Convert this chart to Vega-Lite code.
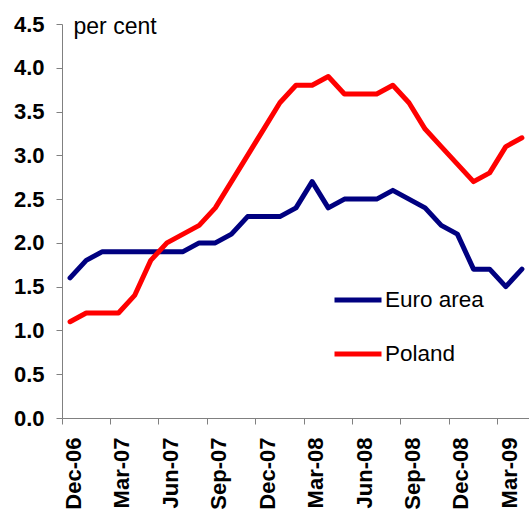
{
  "$schema": "https://vega.github.io/schema/vega-lite/v6.json",
  "autosize": "none",
  "width": 468,
  "height": 394,
  "padding": {"left": 62, "top": 24, "right": 0, "bottom": 93},
  "background": "white",
  "config": {
    "view": {"stroke": null},
    "font": "Liberation Sans"
  },
  "data": {
    "values": [
      {"month": "Dec-06", "series": "Euro area", "value": 1.6},
      {"month": "Jan-07", "series": "Euro area", "value": 1.8},
      {"month": "Feb-07", "series": "Euro area", "value": 1.9},
      {"month": "Mar-07", "series": "Euro area", "value": 1.9},
      {"month": "Apr-07", "series": "Euro area", "value": 1.9},
      {"month": "May-07", "series": "Euro area", "value": 1.9},
      {"month": "Jun-07", "series": "Euro area", "value": 1.9},
      {"month": "Jul-07", "series": "Euro area", "value": 1.9},
      {"month": "Aug-07", "series": "Euro area", "value": 2.0},
      {"month": "Sep-07", "series": "Euro area", "value": 2.0},
      {"month": "Oct-07", "series": "Euro area", "value": 2.1},
      {"month": "Nov-07", "series": "Euro area", "value": 2.3},
      {"month": "Dec-07", "series": "Euro area", "value": 2.3},
      {"month": "Jan-08", "series": "Euro area", "value": 2.3},
      {"month": "Feb-08", "series": "Euro area", "value": 2.4},
      {"month": "Mar-08", "series": "Euro area", "value": 2.7},
      {"month": "Apr-08", "series": "Euro area", "value": 2.4},
      {"month": "May-08", "series": "Euro area", "value": 2.5},
      {"month": "Jun-08", "series": "Euro area", "value": 2.5},
      {"month": "Jul-08", "series": "Euro area", "value": 2.5},
      {"month": "Aug-08", "series": "Euro area", "value": 2.6},
      {"month": "Sep-08", "series": "Euro area", "value": 2.5},
      {"month": "Oct-08", "series": "Euro area", "value": 2.4},
      {"month": "Nov-08", "series": "Euro area", "value": 2.2},
      {"month": "Dec-08", "series": "Euro area", "value": 2.1},
      {"month": "Jan-09", "series": "Euro area", "value": 1.7},
      {"month": "Feb-09", "series": "Euro area", "value": 1.7},
      {"month": "Mar-09", "series": "Euro area", "value": 1.5},
      {"month": "Apr-09", "series": "Euro area", "value": 1.7},
      {"month": "Dec-06", "series": "Poland", "value": 1.1},
      {"month": "Jan-07", "series": "Poland", "value": 1.2},
      {"month": "Feb-07", "series": "Poland", "value": 1.2},
      {"month": "Mar-07", "series": "Poland", "value": 1.2},
      {"month": "Apr-07", "series": "Poland", "value": 1.4},
      {"month": "May-07", "series": "Poland", "value": 1.8},
      {"month": "Jun-07", "series": "Poland", "value": 2.0},
      {"month": "Jul-07", "series": "Poland", "value": 2.1},
      {"month": "Aug-07", "series": "Poland", "value": 2.2},
      {"month": "Sep-07", "series": "Poland", "value": 2.4},
      {"month": "Oct-07", "series": "Poland", "value": 2.7},
      {"month": "Nov-07", "series": "Poland", "value": 3.0},
      {"month": "Dec-07", "series": "Poland", "value": 3.3},
      {"month": "Jan-08", "series": "Poland", "value": 3.6},
      {"month": "Feb-08", "series": "Poland", "value": 3.8},
      {"month": "Mar-08", "series": "Poland", "value": 3.8},
      {"month": "Apr-08", "series": "Poland", "value": 3.9},
      {"month": "May-08", "series": "Poland", "value": 3.7},
      {"month": "Jun-08", "series": "Poland", "value": 3.7},
      {"month": "Jul-08", "series": "Poland", "value": 3.7},
      {"month": "Aug-08", "series": "Poland", "value": 3.8},
      {"month": "Sep-08", "series": "Poland", "value": 3.6},
      {"month": "Oct-08", "series": "Poland", "value": 3.3},
      {"month": "Nov-08", "series": "Poland", "value": 3.1},
      {"month": "Dec-08", "series": "Poland", "value": 2.9},
      {"month": "Jan-09", "series": "Poland", "value": 2.7},
      {"month": "Feb-09", "series": "Poland", "value": 2.8},
      {"month": "Mar-09", "series": "Poland", "value": 3.1},
      {"month": "Apr-09", "series": "Poland", "value": 3.2}
    ]
  },
  "mark": {"type": "line", "strokeWidth": 5, "strokeJoin": "round", "strokeCap": "round"},
  "encoding": {
    "x": {
      "field": "month",
      "type": "ordinal",
      "sort": null,
      "scale": {"type": "band", "paddingInner": 0, "paddingOuter": 0},
      "axis": {
        "title": null,
        "values": ["Dec-06", "Mar-07", "Jun-07", "Sep-07", "Dec-07", "Mar-08", "Jun-08", "Sep-08", "Dec-08", "Mar-09"],
        "bandPosition": 0,
        "labelOffset": 4,
        "labelAngle": -90,
        "labelAlign": "right",
        "labelBaseline": "middle",
        "labelFont": "Liberation Sans",
        "labelFontSize": 22,
        "labelFontWeight": "bold",
        "labelColor": "black",
        "labelPadding": 13,
        "tickSize": 6,
        "tickColor": "#808080",
        "domainColor": "#808080",
        "grid": false
      }
    },
    "y": {
      "field": "value",
      "type": "quantitative",
      "scale": {"domain": [0, 4.5], "nice": false, "zero": true},
      "axis": {
        "values": [0, 0.5, 1, 1.5, 2, 2.5, 3, 3.5, 4, 4.5],
        "format": ".1f",
        "grid": false,
        "labelFont": "Liberation Sans",
        "labelFontSize": 22,
        "labelFontWeight": "bold",
        "labelColor": "black",
        "labelPadding": 12,
        "tickSize": 6,
        "tickColor": "#808080",
        "domainColor": "#808080",
        "title": "per cent",
        "titleAngle": 0,
        "titleAlign": "left",
        "titleBaseline": "alphabetic",
        "titleX": 11,
        "titleY": 9,
        "titleFont": "Liberation Sans",
        "titleFontSize": 23,
        "titleFontWeight": "normal",
        "titleColor": "black"
      }
    },
    "color": {
      "field": "series",
      "type": "nominal",
      "scale": {"domain": ["Euro area", "Poland"], "range": ["#000080", "#FF0000"]},
      "legend": {
        "title": null,
        "orient": "none",
        "legendX": 270,
        "legendY": 250,
        "padding": 0,
        "symbolType": "stroke",
        "symbolSize": 2209,
        "symbolStrokeWidth": 5,
        "rowPadding": 16,
        "labelOffset": 1,
        "labelFont": "Liberation Sans",
        "labelFontSize": 22.5,
        "labelColor": "black"
      }
    }
  }
}
